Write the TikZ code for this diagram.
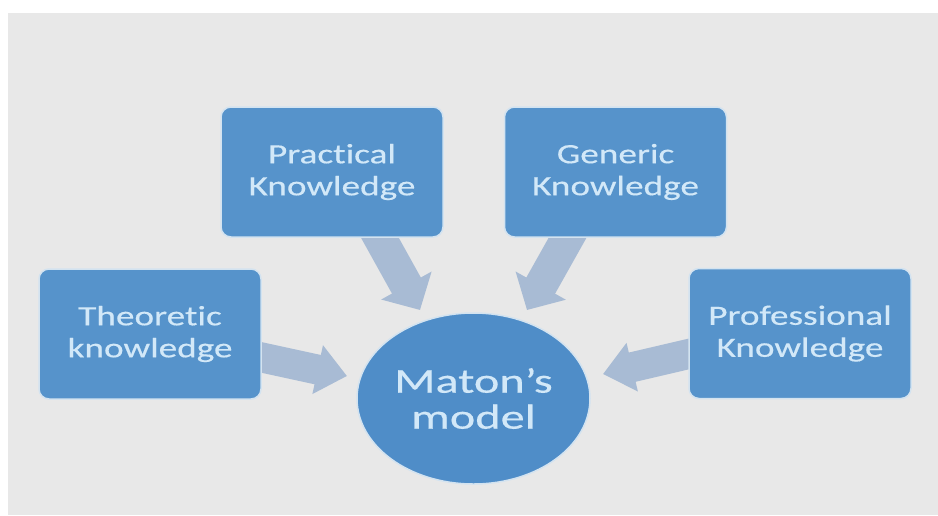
\documentclass[tikz,border=0pt]{standalone}
\usepackage{fontspec}
\setmainfont{Carlito}
\newfontfamily\boxfont[FakeStretch=1.33,FakeBold=0.4,Ligatures=NoCommon]{Carlito}
\newfontfamily\ellfont[FakeStretch=1.38,FakeBold=0.4,Ligatures=NoCommon]{Carlito}
\usetikzlibrary{arrows.meta,calc,shapes.geometric}
\definecolor{bg}{HTML}{E8E8E8}
\definecolor{boxblue}{HTML}{5693CB}
\definecolor{ellblue}{HTML}{4F8DC8}
\definecolor{txtblue}{HTML}{D2E8F8}
\definecolor{arr}{HTML}{A8BBD4}
\definecolor{halo}{HTML}{D3E3F0}
\begin{document}
\begin{tikzpicture}[x=1pt,y=-1pt,
  kbox/.style={rectangle, rounded corners=10pt, fill=boxblue, draw=halo, line width=1.5pt,
    minimum width=222pt, minimum height=130pt, text=txtblue, inner sep=0pt, align=center,
    font=\boxfont\fontsize{28}{32}\selectfont},
  kell/.style={ellipse, fill=ellblue, draw=halo, line width=1.5pt, minimum width=233pt,
    minimum height=171pt, text=txtblue, inner sep=0pt, align=center,
    font=\ellfont\fontsize{35}{36}\selectfont},
  diagarrow/.style={draw=arr, line width=33pt, -{Triangle[length=28pt,width=56pt]}},
  sidearrow/.style={draw=arr, line width=30pt, -{Triangle[length=30pt,width=48pt]}}]
\useasboundingbox (0,0) rectangle (938,515);
\fill[white] (0,0) rectangle (938,515);
\fill[bg] (8,13) rectangle (938,515);

\coordinate (mc) at (473.5,398.5);
\coordinate (pc) at (332,172);
\coordinate (gc) at (615.5,172);
\coordinate (tc) at (150,334);
\coordinate (fc) at (800,333.5);

% arrows (drawn first, boxes cover their tails)
\coordinate (pa1) at ($(pc)+(43,57)$);
\coordinate (pa2) at ($(mc)+(-53.5,-88.5)$);
\coordinate (ga1) at ($(gc)+(-43,57)$);
\coordinate (ga2) at ($(mc)+(53.5,-88.5)$);
\coordinate (ta1) at ($(tc)+(105,22)$);
\coordinate (ta2) at ($(mc)+(-126.5,-22.5)$);
\coordinate (fa1) at ($(fc)+(-105,19)$);
\coordinate (fa2) at ($(mc)+(129.5,-24.5)$);
\draw[diagarrow] (pa1) -- (pa2);
\draw[diagarrow] (ga1) -- (ga2);
\draw[sidearrow] (ta1) -- (ta2);
\draw[sidearrow] (fa1) -- (fa2);

\node[kbox] (prac) at (pc) {Practical\\Knowledge};
\node[kbox] (gen) at (gc) {Generic\\Knowledge};
\node[kbox] (theo) at (tc) {Theoretic\\knowledge};
\node[kbox] (prof) at (fc) {Professional\\Knowledge};
\node[kell] (maton) at (mc) {Maton’s\\model};
\end{tikzpicture}
\end{document}
